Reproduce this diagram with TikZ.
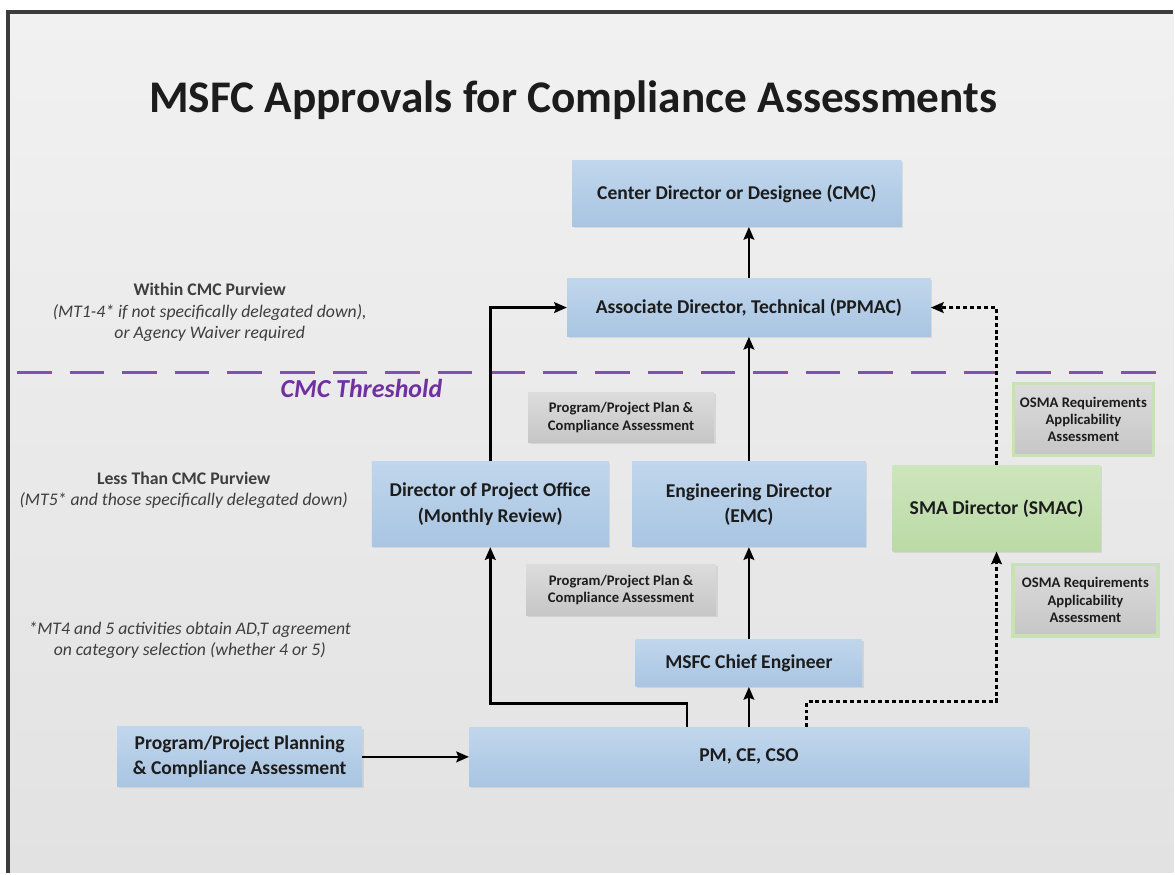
\documentclass[tikz,border=0pt]{standalone}
\usepackage{fontspec}
\setmainfont{Carlito}
\usetikzlibrary{arrows.meta,positioning,shadows}
\definecolor{bleuhaut}{HTML}{C0D6EC}
\definecolor{bleubas}{HTML}{A9C5E2}
\definecolor{verthaut}{HTML}{CDE5BC}
\definecolor{vertbas}{HTML}{BBDAA5}
\definecolor{grishaut}{HTML}{DCDCDC}
\definecolor{grisbas}{HTML}{C6C6C6}
\definecolor{bordvert}{HTML}{C8E2B6}
\definecolor{pourpre}{HTML}{7030A0}
\definecolor{fondhaut}{HTML}{F1F1F1}
\definecolor{fondbas}{HTML}{E2E2E2}
\definecolor{encre}{HTML}{1C1C1C}
\definecolor{cadre}{HTML}{3C3C3C}

\begin{document}
\begin{tikzpicture}[x=0.75pt,y=-0.75pt,
            every node/.style={align=center, inner sep=0pt, text=encre},
            boite/.style={rectangle, font=\fontsize{14.7}{19}\selectfont\bfseries,
                drop shadow={opacity=0.18, shadow xshift=1.2pt, shadow yshift=-1.2pt}},
            bleu/.style={boite, top color=bleuhaut, bottom color=bleubas},
            vert/.style={boite, top color=verthaut, bottom color=vertbas},
            gris/.style={boite, font=\fontsize{11}{13}\selectfont\bfseries,
                top color=grishaut, bottom color=grisbas},
            osma/.style={gris, draw=bordvert, line width=2.5pt},
            note/.style={font=\fontsize{13.3}{16}\selectfont, text=encre!85},
            fleche/.style={-{Stealth[length=9.5pt,width=8pt,inset=1.5pt]}, line width=2.1pt, black},
            pointille/.style={fleche, dash pattern=on 3pt off 2.2pt},
            seuil/.style={pourpre!85, line width=2.2pt, dash pattern=on 26pt off 13.5pt}]
            % fond et cadre
            \fill[white] (0,0) rectangle (1175,874);
            \shade[top color=fondhaut, bottom color=fondbas] (8,12) rectangle (1175,874);
            \draw[cadre, line width=2.6pt] (8,874) -- (8,12) -- (1175,12);
            \useasboundingbox (0,0) rectangle (1175,874);

            \node[font=\fontsize{34}{40}\selectfont\bfseries] (titre) at (574,100)
                {MSFC Approvals for Compliance Assessments};

            % ligne de seuil
            \draw[seuil] (17,373) -- (1175,373);
            \node[font=\fontsize{19.5}{23}\selectfont\bfseries\itshape, text=pourpre] (seuiltxt)
                at (362,389) {CMC Threshold};

            % boites
            \node[bleu, minimum width=247.5pt, minimum height=49.5pt] (cmc) at (738,194)
                {Center Director or Designee (CMC)};
            \node[bleu, minimum width=273pt, minimum height=43.5pt] (ad) at (750,308)
                {Associate Director, Technical (PPMAC)};
            \node[bleu, minimum width=178pt, minimum height=64pt] (dpo) at (491,505)
                {Director of Project Office\\(Monthly Review)};
            \node[bleu, minimum width=175.5pt, minimum height=64pt] (ed) at (750,505)
                {Engineering Director\\(EMC)};
            \node[vert, minimum width=156pt, minimum height=64.5pt] (sma) at (998,509)
                {SMA Director (SMAC)};
            \node[bleu, minimum width=170pt, minimum height=35.5pt] (ce) at (750,664)
                {MSFC Chief Engineer};
            \node[bleu, minimum width=420pt, minimum height=44pt] (pm) at (750,758)
                {PM, CE, CSO};
            \node[bleu, minimum width=184pt, minimum height=45pt] (plan) at (240,758)
                {Program/Project Planning\\\& Compliance Assessment};

            \node[gris, minimum width=139.5pt, minimum height=37pt] (pp1) at (622,418)
                {Program/Project Plan \&\\Compliance Assessment};
            \node[gris, minimum width=142.5pt, minimum height=38pt] (pp2) at (622,591)
                {Program/Project Plan \&\\Compliance Assessment};
            \node[osma, minimum width=105pt, minimum height=54pt] (osma1) at (1085,420)
                {OSMA Requirements\\Applicability\\Assessment};
            \node[osma, minimum width=109pt, minimum height=54pt] (osma2) at (1087,601)
                {OSMA Requirements\\Applicability\\Assessment};

            % notes a gauche
            \node[note] (dans) at (210,313)
                {\textbf{Within CMC Purview}\\\textit{(MT1-4* if not specifically delegated down),}\\\textit{or Agency Waiver required}};
            \node[note] (moins) at (184,491)
                {\textbf{Less Than CMC Purview}\\\textit{(MT5* and those specifically delegated down)}};
            \node[note] (mt) at (190,641)
                {\textit{*MT4 and 5 activities obtain AD,T agreement}\\\textit{on category selection (whether 4 or 5)}};

            % fleches
            \draw[fleche] (ad.north) -- (cmc.south -| ad.north);
            \draw[fleche] (ed.north) -- (ad.south);
            \draw[fleche] (ce.north) -- (ed.south);
            \draw[fleche] (pm.north) -- (ce.south);
            \draw[fleche] (plan.east) -- (pm.west);
            \draw[fleche] ([xshift=-46.5pt]pm.north) -- ++(0,-24) -| (dpo.south);
            \draw[fleche] (dpo.north) |- (ad.west);
            \draw[pointille] ([xshift=43.5pt]pm.north) -- ++(0,-26) -| (sma.south);
            \draw[pointille] (sma.north) |- (ad.east);
\end{tikzpicture}
\end{document}
